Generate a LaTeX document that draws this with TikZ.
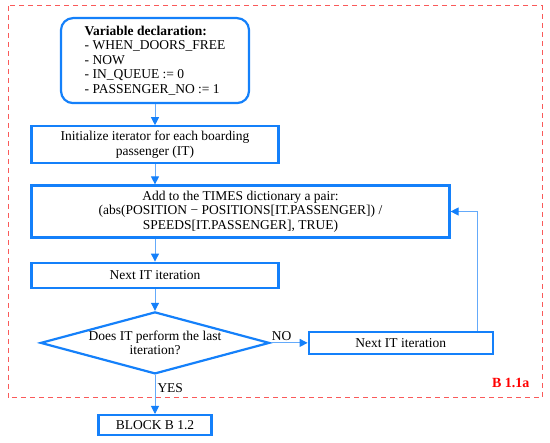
\documentclass[tikz,border=0pt]{standalone}
\usepackage{fontspec}
\setmainfont{Liberation Serif}
\usetikzlibrary{arrows.meta,positioning,shapes.geometric}

\definecolor{boxblue}{RGB}{20,128,250}
\definecolor{lineblue}{RGB}{100,170,250}
\definecolor{framered}{RGB}{250,90,90}

\begin{document}
\begin{tikzpicture}[
  x=1pt, y=1pt,
  font=\fontsize{13.5}{14.5}\selectfont,
  box/.style={
    draw=boxblue,
    line width=2.2pt,
    fill=white,
    align=center,
    inner sep=3pt
  },
  decl/.style={
    box,
    rounded corners=12pt,
    align=left,
    minimum width=188pt,
    minimum height=85pt
  },
  decision/.style={
    box,
    shape=diamond,
    aspect=3.6,
    inner xsep=-15pt,
    inner ysep=0pt,
    minimum width=229pt,
    minimum height=62pt
  },
  arrow/.style={-{Triangle[length=8pt,width=8pt,color=boxblue]}, line width=1pt, draw=lineblue},
  lbl/.style={inner sep=2pt}
]
\useasboundingbox (0,0) rectangle (550,-443);

\draw[framered, dash pattern=on 5pt off 4pt, line width=1pt] (8,-6) rectangle (542,-398);

\node[decl] (decl) at (155,-60.6) {\textbf{Variable declaration:}\\- WHEN\_DOORS\_FREE\\- NOW\\- IN\_QUEUE := 0\\- PASSENGER\_NO := 1};
\node[box, minimum width=247pt, minimum height=37pt, below=21pt of decl] (init) {Initialize iterator for each boarding\\passenger (IT)};
\node[box, minimum width=418pt, minimum height=52pt, below=20pt of init.south west, anchor=north west] (add) {Add to the TIMES dictionary a pair:\\(abs(POSITION − POSITIONS[IT.PASSENGER]) /\\SPEEDS[IT.PASSENGER], TRUE)};
\node[box, minimum width=247pt, minimum height=25pt, below=23pt of add.south west, anchor=north west] (next) {Next IT iteration};
\node[decision, below=22pt of next] (last) {Does IT perform the last\\iteration?};
\node[box, minimum width=184pt, minimum height=22pt, right=37pt of last] (nextb) {Next IT iteration};
\node[box, minimum width=113pt, minimum height=20pt, below=39pt of last] (block) {BLOCK B 1.2};

\node[text=red, font=\fontsize{14}{16}\selectfont\bfseries, anchor=south east] (tag) at (533,-391) {B 1.1a};

\draw[arrow] (decl) -- (init);
\draw[arrow] (init.south -| decl) -- (add.north -| decl);
\draw[arrow] (add.south -| decl) -- (next.north -| decl);
\draw[arrow] (next.south -| last) -- (last.north);
\draw[arrow] (last) -- node[lbl, above, pos=0.3] {NO} (nextb);
\draw[arrow] (last) -- node[lbl, right, pos=0.33] {YES} (block);
\draw[arrow] ([xshift=-16pt]nextb.north east) |- (add.east);

\end{tikzpicture}
\end{document}
